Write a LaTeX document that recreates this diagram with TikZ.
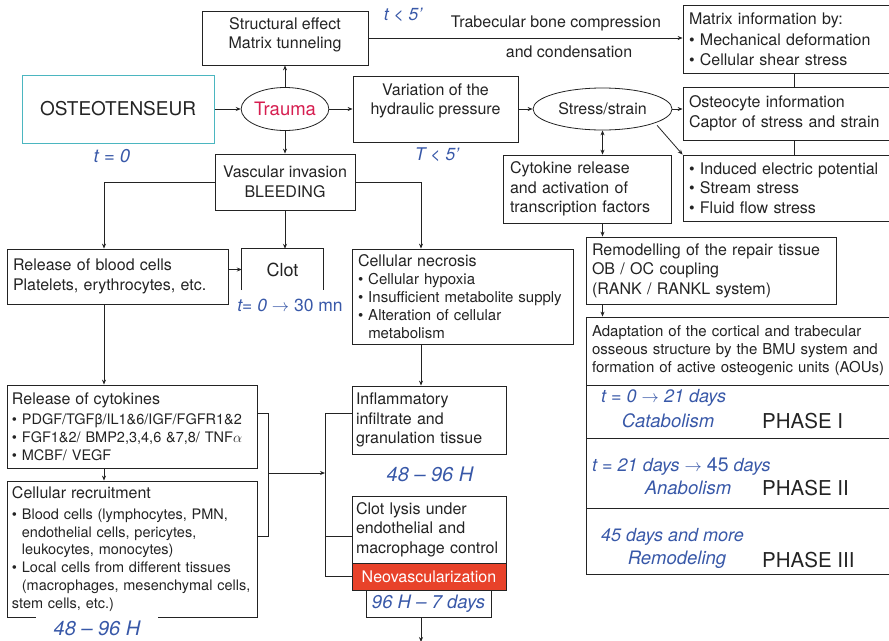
\documentclass[tikz,border=0pt]{standalone}
\usepackage{fontspec}
\setmainfont{TeX Gyre Heros}
\usetikzlibrary{shapes.geometric, arrows.meta, calc}

\definecolor{ink}{RGB}{35,35,35}
\definecolor{timeblue}{RGB}{56,88,168}
\definecolor{traumared}{RGB}{214,30,80}
\definecolor{osteoline}{RGB}{75,182,192}
\definecolor{neored}{RGB}{232,66,42}

\newcommand{\mfont}{\fontsize{16}{19.5}\selectfont}
\newcommand{\sfont}{\fontsize{15}{18}\selectfont}
\newcommand{\bul}{\textbullet\ }
\newcommand{\bulsp}{\phantom{\textbullet\ }}

\tikzset{
  box/.style={draw=ink, line width=0.8pt, inner xsep=6pt, inner ysep=0pt, text=ink, font=\mfont, align=center},
  lbox/.style={box, align=left},
  plain/.style={text=ink, font=\mfont, inner sep=1pt},
  stage/.style={text=timeblue, font=\fontsize{17.5}{17.5}\selectfont\itshape, inner sep=1pt},
  phasename/.style={stage, font=\fontsize{18.5}{18.5}\selectfont\itshape},
  phase/.style={text=ink, font=\fontsize{20.5}{20.5}\selectfont, inner sep=1pt, anchor=west},
  link/.style={draw=ink, line width=0.8pt},
  arr/.style={link, -{Stealth[length=5pt,width=4pt]}},
  arrs/.style={link, {Stealth[length=5pt,width=4pt]}-{Stealth[length=5pt,width=4pt]}},
}

\begin{document}
\begin{tikzpicture}[x=1pt, y=-1pt]
    \useasboundingbox (0,0) rectangle (889,640);
    \clip (0,0) rectangle (889,640);

    % trauma and what follows at once
    \node[box, draw=osteoline, line width=1pt, minimum width=192pt, minimum height=68pt, font=\fontsize{19}{19}\selectfont] (osteo) at (118,109) {OSTEOTENSEUR};
    \node[stage, font=\fontsize{18.5}{18.5}\selectfont\itshape] (t0) at (112,156) {t = 0};
    \node[ellipse, draw=ink, line width=0.8pt, minimum width=85pt, minimum height=43pt, inner sep=0pt, text=traumared, font=\fontsize{18.5}{18.5}\selectfont] (trauma) at (285,109) {Trauma};
    \node[box, minimum width=166pt, minimum height=54pt] (struct) at (285,38) {Structural effect\\Matrix tunneling\\[-10pt]\mbox{}};
    \node[stage] (tsmall) at (403,15) {t < 5'};
    \node[plain] (trab1) at (556,23) {Trabecular bone compression};
    \node[plain] (trab2) at (569,52) {and condensation};
    \node[box, minimum width=140pt, minimum height=56pt] (vasc) at (285,182) {Vascular invasion\\BLEEDING};
    \node[box, minimum width=165pt, minimum height=66pt] (var) at (435.5,109) {Variation of the\\hydraulic pressure\\\mbox{}};
    \node[stage] (tbig) at (437,155) {T < 5'};
    \node[ellipse, draw=ink, line width=0.8pt, minimum width=139pt, minimum height=42pt, inner sep=0pt, text=ink, font=\mfont] (stress) at (602.5,109) {Stress/strain};

    % mechanical side
    \node[lbox, minimum height=68pt, text width=210pt] (matrix) at (794,39) {Matrix information by:\\[2pt]\bul Mechanical deformation\\\bul Cellular shear stress};
    \node[lbox, minimum height=53pt, text width=210pt] (osteocyte) at (794,113.5) {Osteocyte information\\Captor of stress and strain};
    \node[lbox, minimum height=66pt, text width=210pt] (elec) at (794,188) {\bul Induced electric potential\\\bul Stream stress\\\bul Fluid flow stress};
    \node[lbox, inner xsep=7pt, minimum height=68pt, text width=154pt] (cyto) at (587,189) {Cytokine release\\and activation of\\transcription factors};
    \node[lbox, minimum height=67pt, text width=238pt] (remod) at (711,270.5) {Remodelling of the repair tissue\\OB / OC coupling\\(RANK / RANKL system)};
    \node[lbox, font=\sfont, minimum height=68pt, text width=307pt] (adapt) at (745.5,351) {Adaptation of the cortical and trabecular\\osseous structure by the BMU system and\\formation of active osteogenic units (AOUs)};
    \node[box, minimum width=319pt, minimum height=53pt] (ph1) at (745.5,411.5) {};
    \node[box, minimum width=319pt, minimum height=70pt] (ph2) at (745.5,473) {};
    \node[box, minimum width=319pt, minimum height=66pt] (ph3) at (745.5,541) {};
    \node[stage, font=\fontsize{18}{18}\selectfont\itshape, anchor=west] (p1t) at (600,398) {t = 0 $\rightarrow$ 21 days};
    \node[phasename] (p1n) at (668,421) {Catabolism};
    \node[phase] (p1p) at (761,421) {PHASE I};
    \node[stage, font=\fontsize{18}{18}\selectfont\itshape, anchor=west] (p2t) at (591,467) {t = 21 days $\rightarrow$ {\upshape\fontsize{19.5}{19.5}\selectfont 45} days};
    \node[phasename] (p2n) at (688,488) {Anabolism};
    \node[phase] (p2p) at (761,488) {PHASE II};
    \node[stage, font=\fontsize{18}{18}\selectfont\itshape, anchor=west] (p3t) at (600,537) {45 days and more};
    \node[phasename] (p3n) at (677,560) {Remodeling};
    \node[phase] (p3p) at (761,560) {PHASE III};

    % vascular side
    \node[lbox, minimum height=55pt, text width=209pt] (blood) at (117.5,276.5) {Release of blood cells\\Platelets, erythrocytes, etc.};
    \node[minimum width=81pt, minimum height=41pt, inner sep=0pt, text=ink, font=\fontsize{18}{18}\selectfont] (clot) at (282.5,269.5) {Clot};
    \node[stage] (clott) at (290,305) {t= 0 {\upshape$\rightarrow$ 30 mn}};
    \node[lbox, font=\sfont, minimum height=95pt, text width=209pt] (necro) at (462.5,296.5) {{\fontsize{16}{18}\selectfont Cellular necrosis}\\\bul Cellular hypoxia\\\bul Insufficient metabolite supply\\\bul Alteration of cellular\\\bulsp metabolism};
    \node[lbox, inner xsep=4pt, minimum height=68pt, text width=146pt] (infl) at (429,420) {Inflammatory\\infiltrate and\\granulation tissue};
    \node[stage, font=\fontsize{20}{20}\selectfont\itshape] (h1) at (430,474) {48 -- 96 H};
    \node[lbox, inner xsep=4pt, minimum height=67pt, text width=146pt] (lysis) at (429,529.5) {Clot lysis under\\endothelial and\\macrophage control};
    \node[box, fill=neored, text=white, minimum width=154pt, minimum height=27pt] (neo) at (429,576.5) {Neovascularization};
    \node[box, text=timeblue, font=\fontsize{18.5}{18.5}\selectfont\itshape, minimum width=125pt, minimum height=27pt] (days) at (428.5,603.5) {96 H -- 7 days};
    \node[lbox, font=\fontsize{14.5}{18}\selectfont, inner xsep=5pt, minimum height=83pt, text width=240pt] (cytok) at (132,426.5) {{\fontsize{16}{18}\selectfont Release of cytokines}\\[2pt]\bul PDGF/TGFβ/IL1\&6/IGF/FGFR1\&2\\\bul FGF1\&2/ BMP2,3,4,6 \&7,8/ TNF$\alpha$\\\bul MCBF/ VEGF};
    \node[lbox, font=\fontsize{14.5}{17.8}\selectfont, inner xsep=5pt, minimum height=136pt, text width=240pt] (recruit) at (132,549) {{\fontsize{16}{18}\selectfont Cellular recruitment}\\[3pt]\bul Blood cells (lymphocytes, PMN,\\\bulsp endothelial cells, pericytes,\\\bulsp leukocytes, monocytes)\\\bul Local cells from different tissues\\\bulsp (macrophages, mesenchymal cells,\\stem cells, etc.)};
    \node[stage, fill=white, font=\fontsize{20}{20}\selectfont\itshape, inner xsep=18pt, inner ysep=6pt] (h2) at (97,628) {48 -- 96 H};

    \coordinate (lc) at (104,0);
    \coordinate (nc) at (421,0);
    \coordinate (j1) at (268,413);
    \coordinate (j2) at (268,536);
    \coordinate (j3) at (268,473);
    \coordinate (k1) at (325,413);
    \coordinate (k2) at (325,536);
    \coordinate (out) at (421,642);

    \draw[arr] (osteo.east) -- (trauma.west);
    \draw[arr] (trauma.north) -- (struct.south);
    \draw[arr] (trauma.south) -- (vasc.north);
    \draw[arr] (trauma.east) -- (var.west);
    \draw[arr] (var.east) -- (stress.west);
    \draw[arr] (stress.east) -- (stress.east -| osteocyte.west);
    \draw[arr] (struct.east) -- (struct.east -| matrix.west);
    \draw[link] (matrix.south) -- (osteocyte.north);
    \draw[link] (osteocyte.south) -- (elec.north);
    \draw[arr, shorten <=3pt] (stress.-15) -- (elec.north west);
    \draw[arrs] (stress.south) -- (stress.south |- cyto.north);
    \draw[arr] (stress.south |- cyto.south) -- (stress.south |- remod.north);
    \draw[arr] (stress.south |- remod.south) -- (stress.south |- adapt.north);

    \draw[arr] (vasc.west) -| (lc |- blood.north);
    \draw[arr] (vasc.south) -- (vasc.south |- clot.north);
    \draw[arr] (vasc.east) -| (nc |- necro.north);
    \draw[arr] (clot.west -| blood.east) -- (clot.west);
    \draw[link] (clot.south west) |- (clot.north east) -- (clot.south east);
    \draw[arr] (lc |- blood.south) -- (lc |- cytok.north);
    \draw[arr] (lc |- cytok.south) -- (lc |- recruit.north);
    \draw[arr] (nc |- necro.south) -- (nc |- infl.north);
    \draw[arr] (nc |- days.south) -- (out);

    \draw[link] (cytok.east |- j1) -- (j1) -- (j2) -- (recruit.east |- j2);
    \draw[arr] (j3) -- (k1 |- j3);
    \draw[link] (infl.west |- k1) -- (k1) -- (k1 |- neo.west) -- (neo.west);
    \draw[link] (k2) -- (lysis.west |- k2);
\end{tikzpicture}
\end{document}
